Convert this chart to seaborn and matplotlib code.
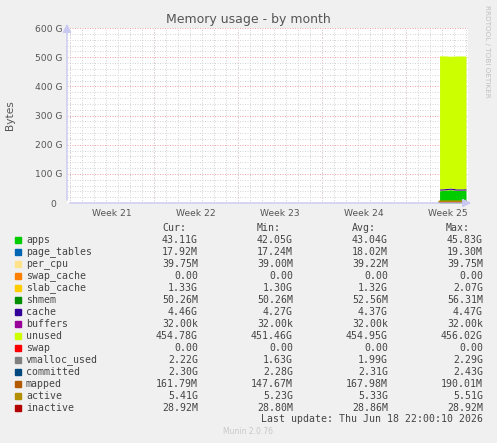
import numpy as np
import pandas as pd
import matplotlib.pyplot as plt
from matplotlib.patches import Rectangle
import seaborn as sns

# time in days since start of week 21, values in GB
days = [30.8, 31.25, 31.7, 32.15, 32.6, 33.0]

apps = [42.10, 43.50, 45.83, 42.90, 42.80, 43.11]
page_tables = [0.0193, 0.0180, 0.0178, 0.0172, 0.0176, 0.0179]
per_cpu = [0.0390, 0.0391, 0.0392, 0.0393, 0.0395, 0.0398]
swap_cache = [0.0, 0.0, 0.0, 0.0, 0.0, 0.0]
slab_cache = [2.07, 1.31, 1.30, 1.32, 1.31, 1.33]
shmem = [0.0563, 0.0540, 0.0525, 0.0510, 0.0503, 0.0503]
cache = [4.27, 4.33, 4.38, 4.42, 4.47, 4.46]
buffers = [0.000032] * 6
unused = [456.02, 455.10, 451.46, 455.30, 455.40, 454.78]
swap = [0.0, 0.0, 0.0, 0.0, 0.0, 0.0]

vmalloc_used = [1.63, 1.90, 2.10, 2.29, 2.20, 2.22]
committed = [2.43, 2.30, 2.28, 2.30, 2.29, 2.30]
mapped = [0.190, 0.170, 0.148, 0.160, 0.170, 0.162]
active = [5.23, 5.30, 5.51, 5.35, 5.30, 5.41]
inactive = [0.0288, 0.0288, 0.0289, 0.0289, 0.0289, 0.0289]

stack_names = ["apps", "page_tables", "per_cpu", "swap_cache", "slab_cache",
               "shmem", "cache", "buffers", "unused", "swap"]
stack_values = [apps, page_tables, per_cpu, swap_cache, slab_cache,
                shmem, cache, buffers, unused, swap]
line_names = ["vmalloc_used", "committed", "mapped", "active", "inactive"]
line_values = [vmalloc_used, committed, mapped, active, inactive]

colors = ["#00CC00", "#0066B3", "#FFE38A", "#FF8000", "#FFCC00", "#008F00",
          "#330099", "#990099", "#CCFF00", "#FF0000", "#808080", "#00487D",
          "#B35A00", "#B38F00", "#B30000"]

# legend table
names = stack_names + line_names
cur = ["43.11G", "17.92M", "39.75M", "0.00", "1.33G", "50.26M", "4.46G", "32.00k",
       "454.78G", "0.00", "2.22G", "2.30G", "161.79M", "5.41G", "28.92M"]
mins = ["42.05G", "17.24M", "39.00M", "0.00", "1.30G", "50.26M", "4.27G", "32.00k",
        "451.46G", "0.00", "1.63G", "2.28G", "147.67M", "5.23G", "28.80M"]
avgs = ["43.04G", "18.02M", "39.22M", "0.00", "1.32G", "52.56M", "4.37G", "32.00k",
        "454.95G", "0.00", "1.99G", "2.31G", "167.98M", "5.33G", "28.86M"]
maxs = ["45.83G", "19.30M", "39.75M", "0.00", "2.07G", "56.31M", "4.47G", "32.00k",
        "456.02G", "0.00", "2.29G", "2.43G", "190.01M", "5.51G", "28.92M"]

week_starts = [0, 7, 14, 21, 28]
week_labels = ["Week 21", "Week 22", "Week 23", "Week 24", "Week 25"]
y_ticks = [0, 100, 200, 300, 400, 500, 600]
y_labels = ["0  ", "100 G", "200 G", "300 G", "400 G", "500 G", "600 G"]

sns.set_style("white")
plt.rcParams["font.family"] = ["DejaVu Sans"]

W, H = 497, 443
fig = plt.figure(figsize=(W / 100, H / 100), dpi=100, facecolor="#f0f0f0")


def px(x, y):
    return x / W, 1 - y / H


ax = fig.add_axes([67 / W, 1 - 203 / H, (468 - 67) / W, (203 - 28) / H])
ax.set_facecolor("white")

ax.stackplot(days, *stack_values, colors=colors[:10], linewidth=0)

df_lines = pd.DataFrame({"day": days * len(line_names),
                         "value": sum(line_values, []),
                         "series": np.repeat(line_names, len(days))})
sns.lineplot(data=df_lines, x="day", y="value", hue="series",
             palette=dict(zip(line_names, colors[10:])), linewidth=1.5,
             legend=False, ax=ax, zorder=3)

ax.set_xlim(-0.25, 33.17)
ax.set_ylim(0, 600)

# grid
ax.set_xticks([d + 3.5 for d in week_starts], week_labels)
ax.set_xticks(np.arange(0, 34), minor=True)
ax.set_yticks(y_ticks, y_labels)
ax.set_yticks(np.arange(0, 601, 20), minor=True)
grid_minor = dict(color="#d6d6d6", linestyle=(0, (1, 1.5)), linewidth=0.72)
grid_major = dict(color="#f0a4a4", linestyle=(0, (1, 1.5)), linewidth=0.72)
ax.xaxis.grid(True, which="minor", **grid_minor)
ax.yaxis.grid(True, which="minor", **grid_minor)
ax.yaxis.grid(True, which="major", **grid_major)
for d in week_starts:
    ax.axvline(d, zorder=0.5, **grid_major)
ax.set_axisbelow(True)

ax.tick_params(axis="both", which="both", length=0, labelsize=6.6,
               labelcolor="#555555")
ax.tick_params(axis="x", pad=4)
ax.tick_params(axis="y", pad=3)
for s in ax.spines.values():
    s.set_visible(False)

# axis arrows
arrow = dict(arrowstyle="-|>,head_length=0.5,head_width=0.25", color="#c8c8f0", lw=1)
ax.annotate("", xy=(0, 1.04), xytext=(0, 0), xycoords="axes fraction",
            arrowprops=arrow, annotation_clip=False)
ax.annotate("", xy=(1.015, 0), xytext=(0, 0), xycoords="axes fraction",
            arrowprops=arrow, annotation_clip=False)

ax.set_xlabel("")
ax.set_ylabel("")
fig.text(*px(10, 115), "Bytes", rotation=90, ha="center", va="center",
         fontsize=7.6, color="#555555")
fig.text(*px(248, 19), "Memory usage - by month", ha="center", va="center",
         fontsize=9, color="#555555")
fig.text(*px(487, 5), "RRDTOOL / TOBI OETIKER", rotation=270, ha="center",
         va="top", fontsize=5.2, color="#c0c0c0")

# legend table
mono = dict(family="DejaVu Sans Mono", fontsize=7.1, color="#444444", va="center")
for lbl, xr in zip(["Cur:", "Min:", "Avg:", "Max:"], [186, 281, 376, 470]):
    fig.text(*px(xr, 228), lbl, ha="right", **mono)
for i, name in enumerate(names):
    y = 240 + 12 * i
    fig.patches.append(Rectangle(px(14.5, y + 2.8), 6 / W, 6 / H,
                                 transform=fig.transFigure, color=colors[i]))
    fig.text(*px(26, y), name, ha="left", **mono)
    for val, xr in zip([cur[i], mins[i], avgs[i], maxs[i]], [198, 293, 388, 483]):
        fig.text(*px(xr, y), val, ha="right", **mono)
fig.text(*px(483, 419.5), "Last update: Thu Jun 18 22:00:10 2026", ha="right", **mono)
fig.text(*px(248, 432), "Munin 2.0.76", ha="center", va="center",
         fontsize=5.5, color="#c8c8c8")

fig.savefig("out.png", dpi=100, facecolor=fig.get_facecolor())
